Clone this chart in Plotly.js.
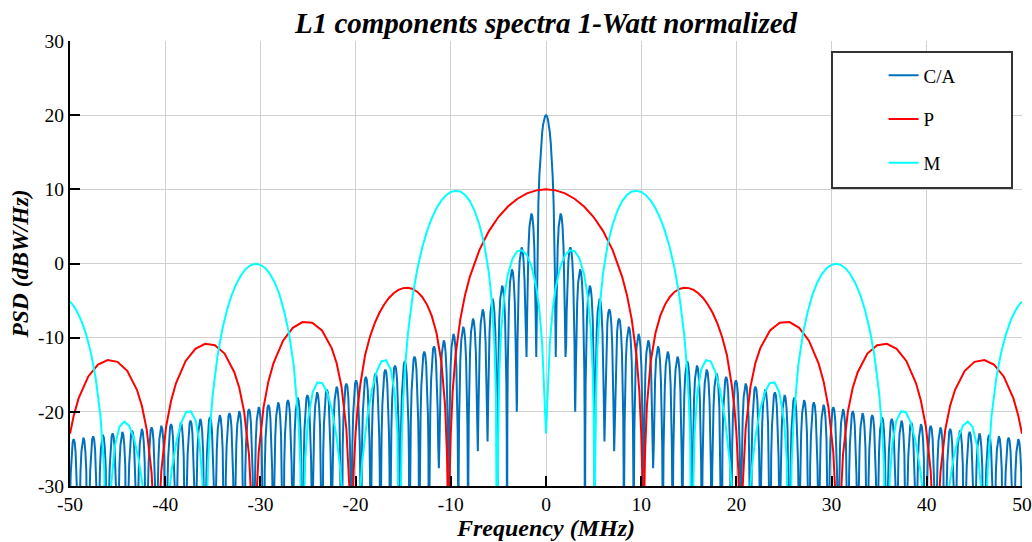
<!DOCTYPE html>
<html>
<head>
<meta charset="utf-8">
<script src="https://cdn.plot.ly/plotly-3.0.1.min.js"></script>
<style>
html,body{margin:0;padding:0;background:#fff;}
#chart{width:1032px;height:542px;}
</style>
</head>
<body>
<div id="chart"></div>
<script>
// ---------- Data (positive-frequency half; spectra are symmetric) ----------
const seriesNames = ['C/A', 'P', 'M'];
const xTicks = [-50, -40, -30, -20, -10, 0, 10, 20, 30, 40, 50];
const yTicks = [-30, -20, -10, 0, 10, 20, 30];

// C/A main lobe (MHz, dBW/Hz)
const caMainF  = [0, 0.1, 0.2, 0.3, 0.4, 0.5, 0.6, 0.7, 0.8, 0.85, 0.9, 0.95, 0.98];
const caMainDb = [20, 19.86, 19.45, 18.73, 17.69, 16.27, 14.37, 11.81, 8.20, 5.77, 2.50, -2.39, -7.18];
// C/A spectral nulls (MHz) and the depth drawn at each null (dB; -60 = below the axis)
const caNullF = [1.023, 2.046, 3.069, 4.092, 5.115, 6.138, 7.161, 8.184, 9.207, 10.23,
  11.253, 12.276, 13.299, 14.322, 15.345, 16.368, 17.391, 18.414, 19.437, 20.46,
  21.483, 22.506, 23.529, 24.552, 25.575, 26.598, 27.621, 28.644, 29.667, 30.69,
  31.713, 32.736, 33.759, 34.782, 35.805, 36.828, 37.851, 38.874, 39.897, 40.92,
  41.943, 42.966, 43.989, 45.012, 46.035, 47.058, 48.081, 49.104, 50.127];
const caNullDb = [-12.6, -12.6, -20, -60, -60, -24, -25.3, -60, -60, -60,
  -27.6, -60, -60, -60, -60, -60, -60, -60, -60, -60,
  -60, -60, -60, -60, -60, -60, -60, -60, -60, -60,
  -60, -60, -60, -60, -60, -60, -60, -60, -60, -60,
  -60, -60, -60, -60, -60, -60, -60, -60, -60];
// C/A side-lobe peaks (dB), lobe between consecutive nulls
const caPeakDb = [6.74, 2.17, -0.79, -2.99, -4.74, -6.19, -7.43, -8.52, -9.49, -10.36,
  -11.16, -11.88, -12.55, -13.17, -13.75, -14.29, -14.80, -15.29, -15.74, -16.18,
  -16.59, -16.99, -17.36, -17.73, -18.07, -18.41, -18.73, -19.04, -19.34, -19.63,
  -19.91, -20.18, -20.44, -20.70, -20.95, -21.19, -21.42, -21.65, -21.87, -22.09,
  -22.30, -22.51, -22.71, -22.91, -23.10, -23.29, -23.48, -23.66];
// shape of one side lobe: fraction across the lobe and level below its peak (dB)
const caLobeU  = [0.03, 0.07, 0.12, 0.2, 0.3, 0.4, 0.5, 0.6, 0.7, 0.8, 0.88, 0.93, 0.97];
const caLobeDb = [-20.5, -13.2, -8.7, -4.6, -1.8, -0.4, 0, -0.4, -1.8, -4.6, -8.7, -13.2, -20.5];

// P code
const pF = [0, 1, 2, 3, 4, 5, 6, 7, 8, 8.5, 9, 9.5, 9.8, 10.0, 10.1, 10.2, 10.23,
  10.3, 10.4, 10.6, 11, 11.5, 12, 12.5, 13, 13.5, 14, 14.5, 15, 15.5, 16, 16.5, 17, 17.5, 18, 18.5, 19, 19.5, 19.8, 20, 20.2, 20.35, 20.46,
  20.66, 20.97, 21.48, 21.99, 22.51, 23.53, 24.55, 25.58, 26.60, 27.62, 28.64, 29.16, 29.67, 30.18, 30.49, 30.69,
  30.89, 31.20, 31.71, 32.22, 32.74, 33.76, 34.78, 35.81, 36.83, 37.85, 38.87, 39.38, 39.90, 40.41, 40.72, 40.92,
  41.12, 41.43, 41.94, 42.45, 42.97, 43.99, 45.01, 46.04, 47.06, 48.08, 49.10, 49.61, 50];
const pDb = [10, 9.86, 9.45, 8.73, 7.69, 6.27, 4.37, 1.81, -1.80, -4.23, -7.50, -12.39, -17.18, -22.80, -27.84, -40.7, -60,
  -33.3, -25.7, -19.16, -13.18, -9.37, -7.06, -5.54, -4.51, -3.83, -3.43, -3.27, -3.32, -3.56, -4.01, -4.65, -5.52, -6.64, -8.07, -9.90, -12.32, -16.28, -19.6, -22.80, -27.8, -35.4, -60,
  -30.09, -22.31, -16.59, -13.45, -11.41, -9.02, -7.99, -7.90, -8.68, -10.41, -13.50, -15.90, -19.39, -25.47, -33.47, -60,
  -33.58, -25.75, -19.97, -16.76, -14.66, -12.15, -11.01, -10.82, -11.50, -13.14, -16.15, -18.51, -21.96, -28.00, -35.98, -60,
  -36.07, -28.22, -22.40, -19.17, -17.03, -14.46, -13.26, -13.01, -13.64, -15.23, -18.19, -20.52, -22.96];

// M code
const mF = [0, 0.2, 0.4, 0.7, 1.0, 1.5, 2.0, 2.5, 3.0, 3.5, 4.0, 4.4, 4.7, 4.9, 5.0, 5.07, 5.115,
  5.16, 5.25, 5.4, 5.7, 6.0, 6.5, 7.0, 7.5, 8.0, 8.5, 9.0, 9.5, 10.0, 10.5, 11.0, 11.5, 12.0, 12.5, 13.0, 13.5, 14.0, 14.5, 14.8, 15.0, 15.15, 15.28, 15.345,
  15.42, 15.6, 15.9, 16.3, 16.8, 17.3, 17.8, 18.3, 18.8, 19.3, 19.7, 20.0, 20.46,
  20.9, 21.3, 21.6, 22.0, 22.5, 23.0, 23.5, 24.0, 24.5, 25.0, 25.3, 25.5, 25.575,
  25.65, 25.8, 26.0, 26.5, 27.0, 27.5, 28.0, 28.5, 29.0, 29.5, 30.0, 30.5, 31.0, 31.5, 32.0, 32.5, 33.0, 33.5, 34.0, 34.5, 35.0, 35.3, 35.5, 35.7, 35.805,
  35.9, 36.1, 36.4, 36.8, 37.3, 37.8, 38.3, 38.8, 39.3, 39.7, 40.92,
  41.6, 42.0, 42.4, 42.8, 43.3, 43.8, 44.3, 44.8, 45.3, 45.7, 45.9, 46.035,
  46.15, 46.4, 46.8, 47.3, 47.8, 48.3, 48.8, 49.3, 49.7, 50.0];
const mDb = [-22.9, -16.87, -10.91, -6.21, -3.36, -0.46, 1.12, 1.79, 1.68, 0.71, -1.44, -4.60, -8.92, -14.37, -19.69, -27.76, -60,
  -27.63, -18.03, -11.42, -5.00, -1.27, 2.72, 5.22, 7.11, 8.41, 9.23, 9.71, 9.79, 9.64, 9.20, 8.48, 7.45, 6.09, 4.36, 2.16, -0.63, -4.28, -9.40, -13.98, -18.49, -23.90, -33.86, -60,
  -33.09, -23.11, -17.40, -14.31, -13.04, -13.19, -14.63, -17.11, -20.98, -26.67, -33.83, -42.5, -60,
  -43.6, -32.81, -27.91, -23.39, -19.64, -17.32, -16.12, -16.03, -17.31, -21.09, -26.65, -37.46, -60,
  -37.03, -27.20, -21.27, -13.72, -9.35, -6.46, -4.17, -2.55, -1.39, -0.61, -0.18, -0.03, -0.21, -0.69, -1.51, -2.66, -4.21, -6.24, -8.87, -12.43, -17.57, -22.28, -27.16, -36.99, -60,
  -38.36, -29.19, -24.13, -21.21, -19.94, -20.02, -21.40, -23.86, -27.68, -32.13, -60,
  -42.16, -34.56, -29.69, -26.31, -23.48, -21.86, -21.31, -22.02, -24.68, -30.29, -37.65, -60,
  -38.30, -27.74, -20.59, -15.46, -12.05, -9.59, -7.74, -6.38, -5.57, -5.13];

// ---------- Build full (symmetric) traces ----------
function mirror(fs, ds) {
  const x = [], y = [];
  for (let i = fs.length - 1; i >= 0; i--) {
    if (fs[i] === 0) continue;
    x.push(-fs[i]); y.push(ds[i]);
  }
  for (let i = 0; i < fs.length; i++) { x.push(fs[i]); y.push(ds[i]); }
  return {x, y};
}

function caHalf() {
  const f = [], d = [];
  for (let i = 0; i < caMainF.length; i++) { f.push(caMainF[i]); d.push(caMainDb[i]); }
  for (let k = 0; k < caPeakDb.length; k++) {
    const f0 = caNullF[k], f1 = caNullF[k + 1];
    const d0 = caNullDb[k], d1 = caNullDb[k + 1];
    f.push(f0); d.push(d0);
    for (let j = 0; j < caLobeU.length; j++) {
      const u = caLobeU[j];
      const v = caPeakDb[k] + caLobeDb[j];
      const floor = u < 0.5 ? d0 : d1;
      if (v > floor) { f.push(f0 + u * (f1 - f0)); d.push(v); }
    }
  }
  f.push(caNullF[caNullF.length - 1]); d.push(caNullDb[caNullDb.length - 1]);
  return {f, d};
}

const caH = caHalf();
const ca = mirror(caH.f, caH.d);
const p = mirror(pF, pDb);
const m = mirror(mF, mDb);

const serif = 'Liberation Serif, Times New Roman, serif';
const colors = ['#0072BD', '#FF0000', '#00FFFF'];

const traces = [ca, p, m].map((s, i) => ({
  type: 'scatter', mode: 'lines',
  x: s.x, y: s.y,
  name: seriesNames[i],
  legendgroup: 'g' + i,
  line: {color: colors[i], width: 2},
  hoverinfo: 'skip'
}));

const layout = {
  width: 1032, height: 542,
  margin: {l: 70, r: 10, t: 41, b: 56, pad: 0},
  paper_bgcolor: '#ffffff', plot_bgcolor: '#ffffff',
  title: {
    text: 'L1 components spectra 1-Watt normalized',
    font: {family: serif, size: 29, color: '#000', weight: 'bold', style: 'italic'},
    x: 0.5, xref: 'paper', xanchor: 'center',
    y: 0.958, yref: 'container', yanchor: 'middle'
  },
  xaxis: {
    range: [-50, 50],
    tickmode: 'array', tickvals: xTicks, ticktext: xTicks.map(String),
    showgrid: true, gridcolor: '#d0d0d0', gridwidth: 1,
    zeroline: false,
    showline: true, linecolor: '#000', linewidth: 2,
    ticks: 'inside', ticklen: 10, tickwidth: 2, tickcolor: '#000',
    tickfont: {family: serif, size: 19.5, color: '#000'},
    title: {text: 'Frequency (MHz)', font: {family: serif, size: 24, color: '#000', weight: 'bold', style: 'italic'}, standoff: 5}
  },
  yaxis: {
    range: [-30, 30],
    tickmode: 'array', tickvals: yTicks, ticktext: yTicks.map(String),
    showgrid: true, gridcolor: '#d0d0d0', gridwidth: 1,
    zeroline: false,
    showline: true, linecolor: '#000', linewidth: 2,
    ticks: 'inside', ticklen: 10, tickwidth: 2, tickcolor: '#000',
    tickfont: {family: serif, size: 19.5, color: '#000'},
    title: {text: 'PSD (dBW/Hz)', font: {family: serif, size: 23.5, color: '#000', weight: 'bold', style: 'italic'}, standoff: 3}
  },
  showlegend: true,
  legend: {
    x: 0.8546, y: 0.9654, xanchor: 'left', yanchor: 'top',
    bgcolor: 'rgba(0,0,0,0)', borderwidth: 0,
    font: {family: serif, size: 19, color: '#000'},
    tracegroupgap: 16, itemwidth: 30
  },
  shapes: [{
    type: 'rect', xref: 'paper', yref: 'paper',
    x0: 0.8004, x1: 0.9895, y0: 0.6697, y1: 0.9753,
    line: {color: '#333333', width: 2}, fillcolor: '#ffffff', layer: 'above'
  }]
};

Plotly.newPlot('chart', traces, layout, {displayModeBar: false, staticPlot: true});
</script>
</body>
</html>
